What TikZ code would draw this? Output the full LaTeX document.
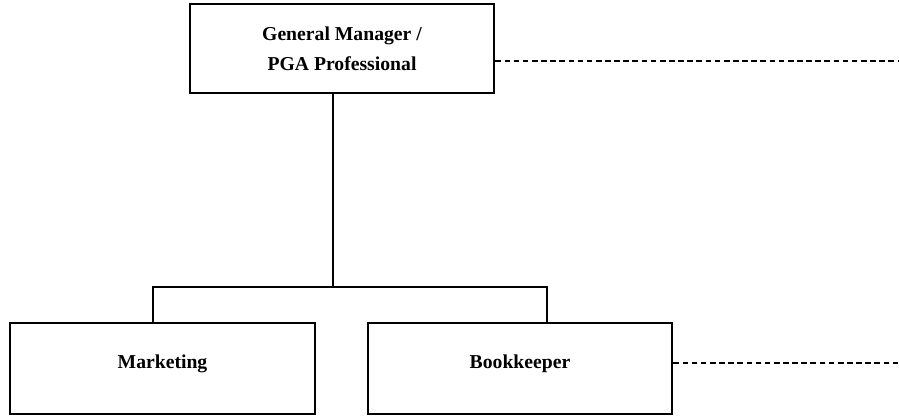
\documentclass[tikz,border=0pt]{standalone}
\usepackage{fontspec}
\setmainfont{Liberation Serif}
\usepackage{amsmath}

\begin{document}
\begin{tikzpicture}[x=0.025cm,y=-0.025cm]

      \useasboundingbox (0,0) rectangle (899,415);

      \begin{scope}[every node/.style={draw,line width=1.9pt,align=center,
          font=\bfseries\fontsize{14}{21}\selectfont,inner sep=0pt}]
        \node[minimum width=7.6cm,minimum height=2.225cm]  (gm)  at (342,48.5)  {General Manager /\\PGA Professional};
        \node[minimum width=7.625cm,minimum height=2.275cm,text height=10pt,text depth=10pt] (mkt) at (162.5,368.5) {Marketing};
        \node[minimum width=7.6cm,minimum height=2.275cm,text height=10pt,text depth=10pt]  (bk)  at (520,368.5)  {Bookkeeper};
      \end{scope}

      \coordinate (j)  at (333,287);
      \coordinate (jl) at (153,287);
      \coordinate (jr) at (547,287);
      \coordinate (gmend) at (899,61);
      \coordinate (bkend) at (899,363);

      \begin{scope}[line width=1.9pt]
        \draw (gm.south -| j) -- (j);
        \draw (mkt.north -| jl) -- (jl) -- (jr) -- (bk.north -| jr);
      \end{scope}

      \begin{scope}[line width=1.7pt,dash pattern=on 4pt off 2.5pt]
        \draw (gm.east |- gmend) -- (gmend);
        \draw (bk.east |- bkend) -- (bkend);
      \end{scope}

    \end{tikzpicture}
\end{document}
